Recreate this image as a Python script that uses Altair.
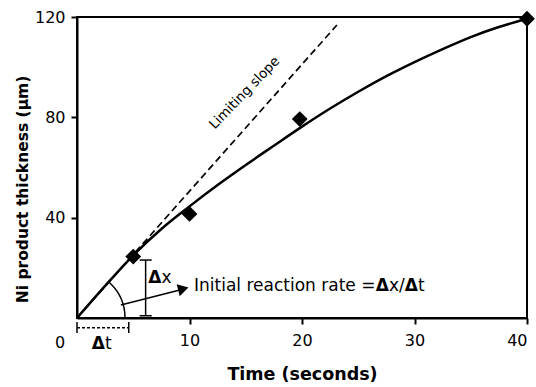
import altair as alt
import pandas as pd

# measured points (diamonds)
pt_time = [5, 10, 19.8, 40]
pt_thick = [24.5, 41.5, 79.3, 119.3]

# fitted curve
curve_time = [0, 2.5, 5, 7.5, 10, 12.5, 15, 17.5, 20, 22.5, 25, 27.5, 30, 32.5, 35, 37.5, 40]
curve_thick = [0, 12.8, 25.0, 35.5, 44.5, 53.0, 61.0, 68.7, 76.3, 83.5, 90.2, 96.4, 102.0, 107.2, 112.0, 116.0, 119.3]

# limiting slope (dashed)
slope_time = [0, 23.1]
slope_thick = [0, 116.8]

X_DOM = [0, 40]
Y_DOM = [0, 120]

xs = alt.Scale(domain=X_DOM, nice=False, zero=False)
ys = alt.Scale(domain=Y_DOM, nice=False, zero=False)

FONT = "DejaVu Sans"
TS = 17

def X(field="x", **kw):
    return alt.X(f"{field}:Q", scale=xs, **kw)

def Y(field="y", **kw):
    return alt.Y(f"{field}:Q", scale=ys, **kw)

curve_df = pd.DataFrame({"x": curve_time, "y": curve_thick})
pts_df = pd.DataFrame({"x": pt_time, "y": pt_thick})
slope_df = pd.DataFrame({"x": slope_time, "y": slope_thick})

base_curve = alt.Chart(curve_df).mark_line(color="black", strokeWidth=2.5, interpolate="monotone").encode(
    x=X(axis=alt.Axis(values=[10, 20, 30, 40], title="Time (seconds)", titleFontSize=17.5,
                      labelPadding=8, titlePadding=17)),
    y=Y(axis=alt.Axis(values=[40, 80, 120], title="Ni product thickness (μm)", titleFontSize=15.5,
                      labelPadding=6, titlePadding=4, titleY=172)),
)

slope = alt.Chart(slope_df).mark_line(color="black", strokeWidth=1.7, strokeDash=[7, 4]).encode(x=X(), y=Y())

pts = alt.Chart(pts_df).mark_point(shape="diamond", filled=True, color="black", size=250, opacity=1).encode(x=X(), y=Y())

# annotation: delta x bar
dx_bar = pd.DataFrame({"x": [6.1], "y": [0.9], "y2": [23.1]})
dx_caps = pd.DataFrame({"x": [5.57, 5.57], "x2": [6.64, 6.64], "y": [0.9, 23.1]})
dxb = alt.Chart(dx_bar).mark_rule(color="black", strokeWidth=1.5).encode(x=X(), y=Y(), y2="y2:Q")
dxc = alt.Chart(dx_caps).mark_rule(color="black", strokeWidth=1.5).encode(x=X(), x2="x2:Q", y=Y())

# delta t bar (below the axis)
dt_bar = pd.DataFrame({"x": [0], "x2": [4.6], "y": [-3.9]})
dt_caps = pd.DataFrame({"x": [0, 4.6], "y": [-1.6, -1.6], "y2": [-6.0, -6.0]})
dtb = alt.Chart(dt_bar).mark_rule(color="black", strokeWidth=1.5, strokeDash=[3, 2]).encode(x=X(), x2="x2:Q", y=Y())
dtc = alt.Chart(dt_caps).mark_rule(color="black", strokeWidth=1.5).encode(x=X(), y=Y(), y2="y2:Q")

# arc marking the initial slope
arc_df = pd.DataFrame({"x": [0], "y": [0]})
arc = alt.Chart(arc_df).mark_arc(radius=48, innerRadius=48, theta=0.74, theta2=1.5708,
                                 stroke="black", strokeWidth=1.5, fillOpacity=0).encode(x=X(), y=Y())

# arrow
arrow_df = pd.DataFrame({"x": [3.9], "y": [5.2], "x2": [9.4], "y2": [11.5]})
arrow = alt.Chart(arrow_df).mark_rule(color="black", strokeWidth=1.5).encode(x=X(), y=Y(), x2="x2:Q", y2="y2:Q")
head_df = pd.DataFrame({"x": [9.45], "y": [11.6]})
head = alt.Chart(head_df).mark_point(shape="triangle-right", filled=True, color="black", size=150, opacity=1,
                                     angle=345.7).encode(x=X(), y=Y())

# texts
norm_df = pd.DataFrame({
    "x": [10.4, 27.73, 30.31, 7.51, 2.48],
    "y": [10.8, 10.8, 10.8, 13.8, -12.4],
    "t": ["Initial reaction rate =", "x/", "t", "x", "t"],
})
bold_df = pd.DataFrame({
    "x": [26.56, 29.14, 6.34, 1.31],
    "y": [10.8, 10.8, 13.8, -12.4],
    "t": ["Δ", "Δ", "Δ", "Δ"],
})
norm_txt = alt.Chart(norm_df).mark_text(font=FONT, fontSize=TS, align="left", baseline="alphabetic", color="black").encode(
    x=X(), y=Y(), text="t:N")
bold_txt = alt.Chart(bold_df).mark_text(font=FONT, fontSize=TS, fontWeight="bold", align="left", baseline="alphabetic", color="black").encode(
    x=X(), y=Y(), text="t:N")

lim_df = pd.DataFrame({"x": [14.9], "y": [89.7], "t": ["Limiting slope"]})
lim = alt.Chart(lim_df).mark_text(font=FONT, fontSize=13.5, angle=314, align="center", baseline="middle", color="black").encode(
    x=X(), y=Y(), text="t:N")

zero_df = pd.DataFrame({"x": [0], "y": [0], "t": ["0"]})
zero = alt.Chart(zero_df).mark_text(font=FONT, fontSize=16, align="center", baseline="middle", dx=-17, dy=25, color="black").encode(
    x=X(), y=Y(), text="t:N")

chart = alt.layer(
    base_curve, slope, pts, dxb, dxc, dtb, dtc, arc, arrow, head, norm_txt, bold_txt, lim, zero
).properties(
    width=450, height=301,
    autosize=alt.AutoSizeParams(type="none"),
    padding={"left": 77, "top": 17, "right": 9, "bottom": 69},
).configure_view(
    stroke="black", strokeWidth=2
).configure_axis(
    grid=False,
    domainColor="black", domainWidth=2,
    tickColor="black", tickWidth=2, tickSize=6,
    labelFont=FONT, labelFontSize=16, labelColor="black",
    titleFont=FONT, titleFontWeight="bold", titleColor="black",
)

chart.save("out.html", embed_options={"renderer": "svg", "actions": False})
